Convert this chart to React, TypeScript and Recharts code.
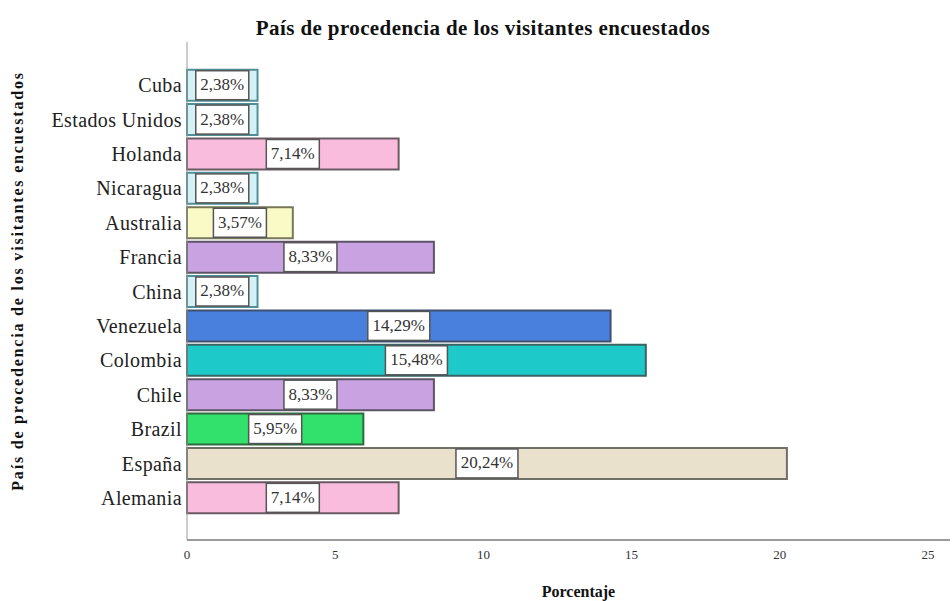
import React from "react";
import { BarChart, Bar, XAxis, YAxis, Cell, LabelList, Label } from "recharts";

const countries = [
  "Cuba",
  "Estados Unidos",
  "Holanda",
  "Nicaragua",
  "Australia",
  "Francia",
  "China",
  "Venezuela",
  "Colombia",
  "Chile",
  "Brazil",
  "España",
  "Alemania",
];
const percents = [2.38, 2.38, 7.14, 2.38, 3.57, 8.33, 2.38, 14.29, 15.48, 8.33, 5.95, 20.24, 7.14];
const fills = [
  "#d4f1f6", "#d4f1f6", "#f9bcdc", "#d4f1f6", "#fafac6", "#c9a2e2", "#d4f1f6",
  "#4a80dd", "#1ec9c9", "#c9a2e2", "#32e06c", "#e9e1cb", "#f9bcdc",
];
const strokes = [
  "#4f8f96", "#4f8f96", "#6a5a62", "#4f8f96", "#77775a", "#5e5468", "#4f8f96",
  "#3e5070", "#3a6466", "#5e5468", "#2f6a3e", "#707066", "#6a5a62",
];
const xTicks = [0, 5, 10, 15, 20, 25];

const title = "País de procedencia de los visitantes encuestados";
const xTitle = "Porcentaje";

const data = countries.map((c, i) => ({ country: c, value: percents[i] }));

const serif = "'Liberation Serif', 'Times New Roman', serif";

const fmt = (v: number) => v.toFixed(2).replace(".", ",") + "%";

const BoxLabel = (props: any) => {
  const { x, y, width, height, value } = props;
  const txt = fmt(Number(value));
  const w = txt.length * 9 + 8;
  const h = height - 2;
  const cx = x + width / 2;
  const cy = y + height / 2;
  return (
    <g>
      <rect x={cx - w / 2} y={cy - h / 2} width={w} height={h} fill="#ffffff" stroke="#555555" strokeWidth={1.5} />
      <text x={cx} y={cy + 1} textAnchor="middle" dominantBaseline="middle" fontFamily={serif} fontSize={17} fill="#333333">
        {txt}
      </text>
    </g>
  );
};

const App: React.FC = () => {
  return (
    <div style={{ position: "absolute", left: 0, top: 0, width: 952, height: 601, background: "#fff" }}>
      <div
        style={{
          position: "absolute",
          left: 0,
          top: 16,
          width: 966,
          textAlign: "center",
          fontFamily: serif,
          fontWeight: "bold",
          fontSize: 21,
          letterSpacing: 0.4,
          color: "#111",
        }}
      >
        {title}
      </div>
      <BarChart
        width={952}
        height={601}
        data={data}
        layout="vertical"
        barCategoryGap="5%"
        margin={{ top: 42, right: 2, bottom: 0, left: 0 }}
      >
        <XAxis
          type="number"
          domain={[0, 25]}
          ticks={xTicks}
          height={61}
          padding={{ left: 0, right: 22 }}
          axisLine={{ stroke: "#9a9a9a", strokeWidth: 2 }}
          tickLine={false}
          tickSize={0}
          tickMargin={10}
          tick={{ fontFamily: serif, fontSize: 13, fill: "#333" }}
        >
          <Label
            value={xTitle}
            position="insideBottom"
            offset={4}
            dx={10}
            style={{ fontFamily: serif, fontWeight: "bold", fontSize: 16, fill: "#111" }}
          />
        </XAxis>
        <YAxis
          type="category"
          dataKey="country"
          width={187}
          padding={{ top: 26, bottom: 25 }}
          axisLine={{ stroke: "#9a9a9a", strokeWidth: 1 }}
          tickLine={false}
          tickSize={0}
          tickMargin={5}
          interval={0}
          tick={{ fontFamily: serif, fontSize: 20, letterSpacing: 0.4, fill: "#222" }}
        >
          <Label
            value={title}
            angle={-90}
            position="insideLeft"
            offset={17}
            dy={-10}
            style={{
              textAnchor: "middle",
              fontFamily: serif,
              fontWeight: "bold",
              fontSize: 16,
              letterSpacing: 1.8,
              fill: "#111",
            }}
          />
        </YAxis>
        <Bar dataKey="value" isAnimationActive={false} strokeWidth={2}>
          {data.map((d, i) => (
            <Cell key={d.country} fill={fills[i]} stroke={strokes[i]} />
          ))}
          <LabelList dataKey="value" content={BoxLabel} />
        </Bar>
      </BarChart>
    </div>
  );
};

export default App;
